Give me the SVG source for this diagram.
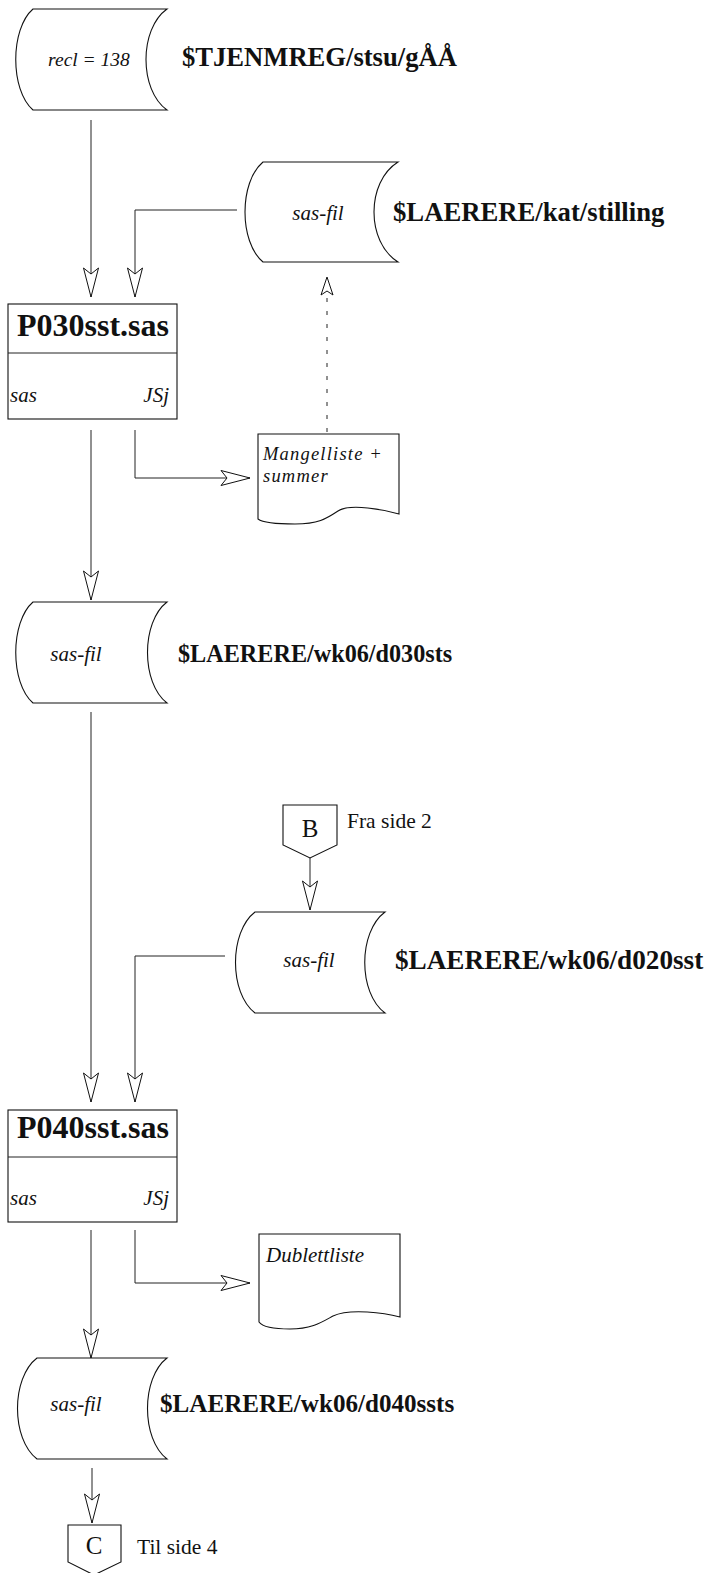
<svg xmlns="http://www.w3.org/2000/svg" width="705" height="1573" viewBox="0 0 705 1573">
<style>
.shape{fill:#fff;stroke:#111;stroke-width:1.1}
.conn{fill:none;stroke:#222;stroke-width:1}
.dash{fill:none;stroke:#222;stroke-width:1;stroke-dasharray:4 9}
.it{font-family:"Liberation Serif",serif;font-style:italic;font-size:21px;fill:#111}
.lbl{font-family:"Liberation Serif",serif;font-weight:bold;font-size:24px;fill:#111}
.ttl{font-family:"Liberation Serif",serif;font-weight:bold;font-size:32px;fill:#111}
.rm{font-family:"Liberation Serif",serif;font-size:21.5px;fill:#111}
.big{font-family:"Liberation Serif",serif;font-size:25px;fill:#111}
</style>
<defs>
<marker id="ah" viewBox="-1 -9 32 18" refX="29" refY="0" markerWidth="32" markerHeight="18" markerUnits="userSpaceOnUse" orient="auto">
<path d="M0,-7.5 L29,0 L0,7.5 L6,0 Z" fill="#fff" stroke="#111" stroke-width="1"/>
</marker>
<marker id="ahs" viewBox="-1 -7 20 14" refX="18" refY="0" markerWidth="20" markerHeight="14" markerUnits="userSpaceOnUse" orient="auto">
<path d="M0,-6 L18,0 L0,6 L4,0 Z" fill="#fff" stroke="#111" stroke-width="1"/>
</marker>
</defs>

<g id="connectors">
<line class="conn" x1="91" y1="120" x2="91" y2="297" marker-end="url(#ah)"/>
<polyline class="conn" points="237,210 135,210 135,297" marker-end="url(#ah)"/>
<line class="conn" x1="91" y1="430" x2="91" y2="600" marker-end="url(#ah)"/>
<polyline class="conn" points="135,430 135,478 250,478" marker-end="url(#ah)"/>
<line class="dash" x1="327" y1="432" x2="327" y2="277" marker-end="url(#ahs)"/>
<line class="conn" x1="91" y1="712" x2="91" y2="1102" marker-end="url(#ah)"/>
<line class="conn" x1="310" y1="858" x2="310" y2="910" marker-end="url(#ah)"/>
<polyline class="conn" points="225,956 135,956 135,1102" marker-end="url(#ah)"/>
<line class="conn" x1="91" y1="1230" x2="91" y2="1358" marker-end="url(#ah)"/>
<polyline class="conn" points="135,1230 135,1283 250,1283" marker-end="url(#ah)"/>
<line class="conn" x1="92" y1="1468" x2="92" y2="1523" marker-end="url(#ah)"/>
</g>

<g id="store-tjenmreg">
<path class="shape" d="M33,9 L167,9 C139,29 139,90 167,110 L33,110 C10,90 10,29 33,9 Z"/>
<text class="it" x="89" y="66" text-anchor="middle" style="font-size:19.5px">recl = 138</text>
<text class="lbl" x="182" y="66" style="font-size:26.6px">$TJENMREG/stsu/gÅÅ</text>
</g>

<g id="store-stilling">
<path class="shape" d="M263,162 L398,162 C366,182 366,242 398,262 L263,262 C239,242 239,182 263,162 Z"/>
<text class="it" x="318" y="220" text-anchor="middle">sas-fil</text>
<text class="lbl" x="393" y="221" style="font-size:26.7px">$LAERERE/kat/stilling</text>
</g>

<g id="proc-p030">
<rect class="shape" x="8" y="304" width="169" height="115"/>
<line class="conn" x1="8" y1="353" x2="177" y2="353"/>
<text class="ttl" x="169" y="336" text-anchor="end">P030sst.sas</text>
<text class="it" x="10" y="402">sas</text>
<text class="it" x="169" y="402" text-anchor="end">JSj</text>
</g>

<g id="doc-mangelliste">
<path class="shape" d="M258,434 L399,434 L399,514 C385,510 350,503 338,511 C326,519 318,524 295,524 C275,524 262,522 258,519 Z"/>
<text class="it" x="263" y="460" style="font-size:18.5px;letter-spacing:1.2px">Mangelliste +</text>
<text class="it" x="263" y="482" style="font-size:18.5px;letter-spacing:1.2px">summer</text>
</g>

<g id="store-d030sts">
<path class="shape" d="M33,602 L167,602 C141,622 141,683 167,703 L33,703 C10,683 10,622 33,602 Z"/>
<text class="it" x="76" y="661" text-anchor="middle">sas-fil</text>
<text class="lbl" x="178" y="662" style="font-size:24.2px">$LAERERE/wk06/d030sts</text>
</g>

<g id="conn-b">
<path class="shape" d="M283,805 L337,805 L337,845 L310,858 L283,845 Z"/>
<text class="big" x="310" y="837" text-anchor="middle">B</text>
<text class="rm" x="347" y="828">Fra side 2</text>
</g>

<g id="store-d020sst">
<path class="shape" d="M255,912 L385,912 C358,932 358,993 385,1013 L255,1013 C229,993 229,932 255,912 Z"/>
<text class="it" x="309" y="967" text-anchor="middle">sas-fil</text>
<text class="lbl" x="395" y="969" style="font-size:27.2px">$LAERERE/wk06/d020sst</text>
</g>

<g id="proc-p040">
<rect class="shape" x="8" y="1110" width="169" height="112"/>
<line class="conn" x1="8" y1="1157" x2="177" y2="1157"/>
<text class="ttl" x="169" y="1138" text-anchor="end">P040sst.sas</text>
<text class="it" x="10" y="1205">sas</text>
<text class="it" x="169" y="1205" text-anchor="end">JSj</text>
</g>

<g id="doc-dublettliste">
<path class="shape" d="M259,1234 L400,1234 L400,1317 C385,1313 350,1308 333,1316 C322,1322 312,1329 290,1329 C272,1329 262,1326 259,1322 Z"/>
<text class="it" x="266" y="1262">Dublettliste</text>
</g>

<g id="store-d040ssts">
<path class="shape" d="M37,1358 L167,1358 C141,1378 141,1439 167,1459 L37,1459 C11,1439 11,1378 37,1358 Z"/>
<text class="it" x="76" y="1411" text-anchor="middle">sas-fil</text>
<text class="lbl" x="160" y="1412" style="font-size:25.1px">$LAERERE/wk06/d040ssts</text>
</g>

<g id="conn-c">
<path class="shape" d="M68,1525 L121,1525 L121,1562 L94,1575 L68,1562 Z"/>
<text class="big" x="94" y="1554" text-anchor="middle">C</text>
<text class="rm" x="137" y="1554">Til side 4</text>
</g>
</svg>
